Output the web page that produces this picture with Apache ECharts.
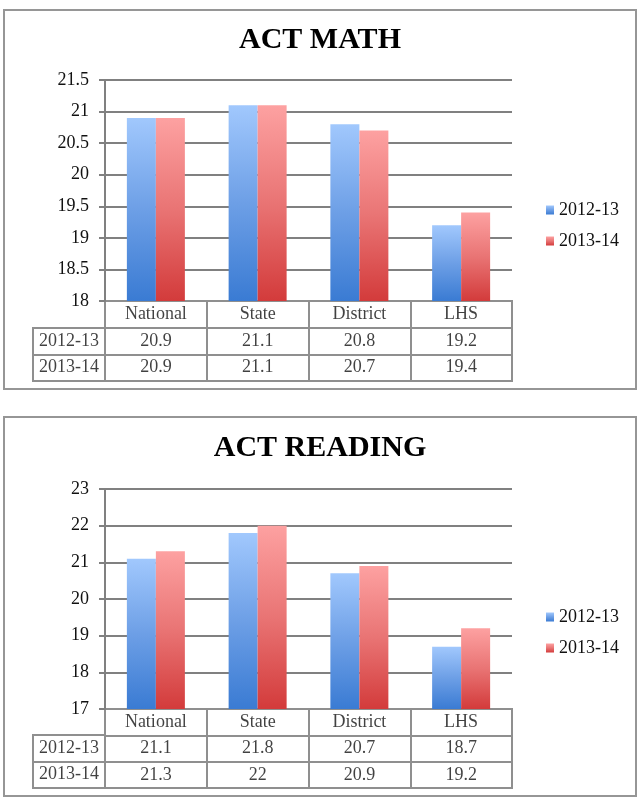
<!DOCTYPE html>
<html>
<head>
<meta charset="utf-8">
<script src="https://cdn.jsdelivr.net/npm/echarts@6/dist/echarts.min.js"></script>
<style>
  body { margin: 0; background: #fff; }
  .box {
    position: absolute; left: 3px; width: 634px; height: 381px;
    border: 2px solid #969696; box-sizing: border-box; background: #fff;
  }
  #math { top: 9px; }
  #reading { top: 416px; }
</style>
</head>
<body>
<div id="math" class="box"></div>
<div id="reading" class="box"></div>
<script>
const categories = ['National', 'State', 'District', 'LHS'];
const seriesNames = ['2012-13', '2013-14'];

const math2012 = [20.9, 21.1, 20.8, 19.2];
const math2013 = [20.9, 21.1, 20.7, 19.4];
const reading2012 = [21.1, 21.8, 20.7, 18.7];
const reading2013 = [21.3, 22, 20.9, 19.2];

const mathAxis = { min: 18, max: 21.5, interval: 0.5 };
const readingAxis = { min: 17, max: 23, interval: 1 };

const FONT = "'Liberation Serif', 'Times New Roman', serif";
const LINE = '#808080';
const TABLE_LINE = '#8f8f8f';

function blueFill() {
  return new echarts.graphic.LinearGradient(0, 0, 0, 1, [
    { offset: 0, color: '#a1c8fd' },
    { offset: 0.5, color: '#6d9fe6' },
    { offset: 1, color: '#3a7bd3' }
  ]);
}
function redFill() {
  return new echarts.graphic.LinearGradient(0, 0, 0, 1, [
    { offset: 0, color: '#fda1a1' },
    { offset: 0.5, color: '#e97474' },
    { offset: 1, color: '#d33b3b' }
  ]);
}

function drawChart(id, title, vals1, vals2, yAxisCfg, lay) {
  let myChart = echarts.init(document.getElementById(id));

  // table cells: header row + one row per series
  let tableCells = [];
  categories.forEach((c, i) => {
    tableCells.push({ value: [i, 0], name: c });
    tableCells.push({ value: [i, 1], name: String(vals1[i]) });
    tableCells.push({ value: [i, 2], name: String(vals2[i]) });
  });
  let rowCells = seriesNames.map((s, r) => ({ value: [0, r], name: s }));

  let cellLabel = {
    show: true, position: 'inside', formatter: '{b}',
    fontFamily: FONT, fontSize: 18, color: '#111'
  };

  let options = {
    animation: false,
    backgroundColor: '#fff',
    title: {
      text: title, left: 'center', top: lay.titleTop,
      textStyle: { fontFamily: FONT, fontSize: 30, fontWeight: 'bold', color: '#000' }
    },
    legend: {
      data: seriesNames, orient: 'vertical', left: 536, top: lay.legendTop,
      itemWidth: 8, itemHeight: 9, itemGap: 13, icon: 'rect',
      textStyle: { fontFamily: FONT, fontSize: 18, color: '#111' }
    },
    grid: [
      { left: 100, top: lay.gridTop, width: 407, height: lay.gridHeight },
      { left: 100, top: lay.tableTop, width: 407, height: lay.tableHeight,
        show: true, borderColor: TABLE_LINE, borderWidth: 2 },
      { left: 28, top: lay.rowTop, width: 72, height: lay.rowHeight,
        show: true, borderColor: TABLE_LINE, borderWidth: 2 }
    ],
    xAxis: [
      { type: 'category', data: categories, gridIndex: 0,
        axisLine: { show: false }, axisTick: { show: false }, axisLabel: { show: false } },
      { type: 'category', data: categories, gridIndex: 1,
        axisLine: { show: false }, axisTick: { show: false }, axisLabel: { show: false },
        splitLine: { show: true, lineStyle: { color: TABLE_LINE, width: 2 } } },
      { type: 'category', data: [''], gridIndex: 2,
        axisLine: { show: false }, axisTick: { show: false }, axisLabel: { show: false } }
    ],
    yAxis: [
      { type: 'value', gridIndex: 0,
        min: yAxisCfg.min, max: yAxisCfg.max, interval: yAxisCfg.interval,
        axisLine: { show: true, lineStyle: { color: LINE, width: 2 } },
        axisTick: { show: true, length: 6, lineStyle: { color: LINE, width: 2 } },
        axisLabel: { fontFamily: FONT, fontSize: 18, color: '#111', margin: 16 },
        splitLine: { lineStyle: { color: LINE, width: 2 } } },
      { type: 'category', data: ['', seriesNames[0], seriesNames[1]], inverse: true, gridIndex: 1,
        axisLine: { show: false }, axisTick: { show: false }, axisLabel: { show: false },
        splitLine: { show: true, lineStyle: { color: TABLE_LINE, width: 2 } } },
      { type: 'category', data: seriesNames, inverse: true, gridIndex: 2,
        axisLine: { show: false }, axisTick: { show: false }, axisLabel: { show: false },
        splitLine: { show: true, lineStyle: { color: TABLE_LINE, width: 2 } } }
    ],
    series: [
      { name: seriesNames[0], type: 'bar', data: vals1, barWidth: 29, barGap: '0%',
        itemStyle: { color: blueFill() } },
      { name: seriesNames[1], type: 'bar', data: vals2, barWidth: 29, barGap: '0%',
        itemStyle: { color: redFill() } },
      { type: 'scatter', xAxisIndex: 1, yAxisIndex: 1, data: tableCells,
        symbolSize: 1, itemStyle: { color: 'rgba(0,0,0,0)' }, label: cellLabel, silent: true },
      { type: 'scatter', xAxisIndex: 2, yAxisIndex: 2, data: rowCells,
        symbolSize: 1, itemStyle: { color: 'rgba(0,0,0,0)' }, label: cellLabel, silent: true }
    ]
  };
  myChart.setOption(options);
}

drawChart('math', 'ACT MATH', math2012, math2013, mathAxis, {
  titleTop: 9, legendTop: 185, gridTop: 69, gridHeight: 221,
  tableTop: 290, tableHeight: 80, rowTop: 317, rowHeight: 53
});
drawChart('reading', 'ACT READING', reading2012, reading2013, readingAxis, {
  titleTop: 10, legendTop: 185, gridTop: 71, gridHeight: 220,
  tableTop: 291, tableHeight: 79, rowTop: 317, rowHeight: 53
});
</script>
</body>
</html>
